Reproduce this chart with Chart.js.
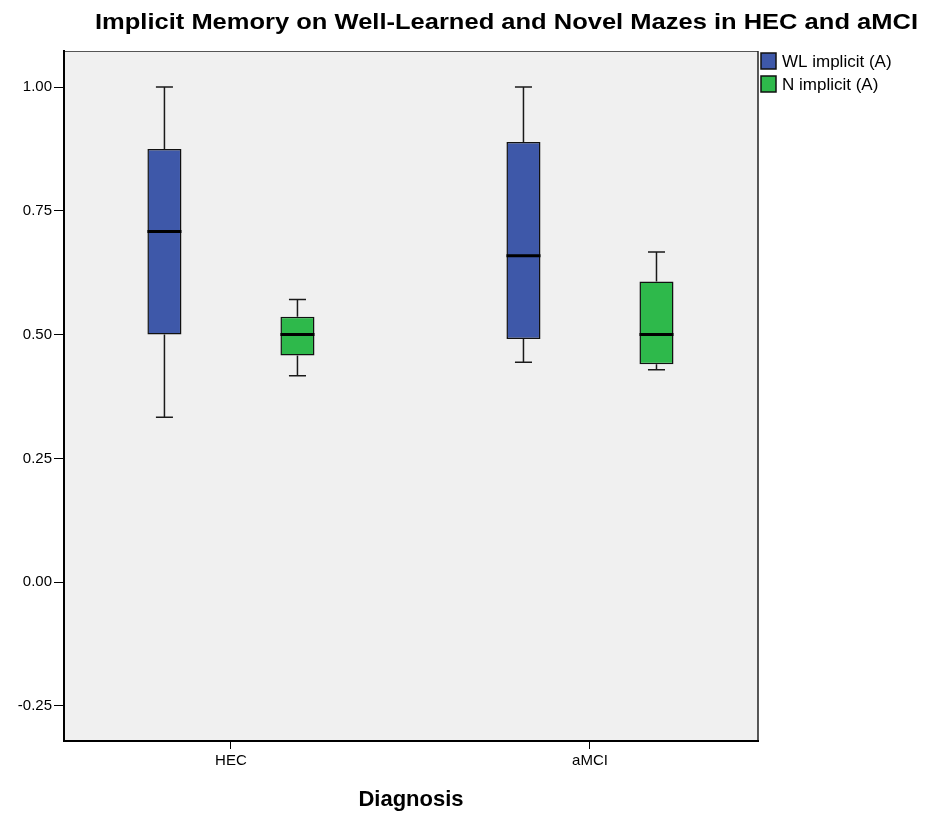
<!DOCTYPE html>
<html>
<head>
<meta charset="utf-8">
<script src="https://cdn.jsdelivr.net/npm/chart.js@4.4.0/dist/chart.umd.min.js"></script>
<style>
html, body { margin: 0; padding: 0; background: #fff; }
#wrap { width: 925px; height: 817px; }
</style>
</head>
<body>
<div id="wrap"><canvas id="graph"></canvas></div>
<script>
const chartTitle = 'Implicit Memory on Well-Learned and Novel Mazes in HEC and aMCI';
const categories = ['HEC', 'aMCI'];
const seriesNames = ['WL implicit (A)', 'N implicit (A)'];
const seriesColors = ['#3e58a9', '#2eb94b'];
const yTicks = [-0.25, 0, 0.25, 0.5, 0.75, 1.0];

// five-number summaries per group
const wlMin = [0.333, 0.444];
const wlQ1 = [0.500, 0.491];
const wlMedian = [0.708, 0.659];
const wlQ3 = [0.875, 0.889];
const wlMax = [1.000, 1.000];

const nMin = [0.417, 0.429];
const nQ1 = [0.458, 0.440];
const nMedian = [0.500, 0.500];
const nQ3 = [0.536, 0.607];
const nMax = [0.571, 0.667];

const FONT = '"Liberation Sans", Arial, sans-serif';
Chart.defaults.font.family = FONT;
Chart.defaults.color = '#000';

function makeSet(i, mins, q1s, meds, q3s, maxs) {
    return {
        label: seriesNames[i],
        data: categories.map((c, j) => ({x: j, y: [q1s[j], q3s[j]]})),
        stats: {min: mins, median: meds, max: maxs, q1: q1s, q3: q3s},
        backgroundColor: seriesColors[i],
        borderColor: '#111',
        borderWidth: 1.5,
        borderSkipped: false,
        categoryPercentage: 0.741,
        barPercentage: 0.256
    };
}

const plotBackground = {
    id: 'plotBackground',
    beforeDraw(chart) {
        const {ctx, chartArea: a} = chart;
        ctx.save();
        ctx.fillStyle = '#f0f0f0';
        ctx.fillRect(a.left, a.top, a.right - a.left, a.bottom - a.top);
        ctx.strokeStyle = '#555';
        ctx.lineWidth = 1;
        ctx.beginPath();
        ctx.moveTo(a.left, a.top + 0.5);
        ctx.lineTo(a.right, a.top + 0.5);
        ctx.stroke();
        ctx.strokeStyle = '#222';
        ctx.lineWidth = 1.5;
        ctx.beginPath();
        ctx.moveTo(a.right, a.top);
        ctx.lineTo(a.right, a.bottom);
        ctx.stroke();
        ctx.restore();
    }
};

const whiskers = {
    id: 'whiskers',
    afterDatasetsDraw(chart) {
        const {ctx} = chart;
        const y = chart.scales.y;
        ctx.save();
        chart.data.datasets.forEach((ds, i) => {
            const meta = chart.getDatasetMeta(i);
            meta.data.forEach((bar, j) => {
                const s = ds.stats;
                const x = bar.x, w = bar.width;
                ctx.strokeStyle = '#1a1a1a';
                ctx.lineWidth = 1.5;
                ctx.beginPath();
                ctx.moveTo(x, y.getPixelForValue(s.q3[j]));
                ctx.lineTo(x, y.getPixelForValue(s.max[j]));
                ctx.moveTo(x, y.getPixelForValue(s.q1[j]));
                ctx.lineTo(x, y.getPixelForValue(s.min[j]));
                ctx.moveTo(x - w / 4, y.getPixelForValue(s.max[j]));
                ctx.lineTo(x + w / 4, y.getPixelForValue(s.max[j]));
                ctx.moveTo(x - w / 4, y.getPixelForValue(s.min[j]));
                ctx.lineTo(x + w / 4, y.getPixelForValue(s.min[j]));
                ctx.stroke();
                ctx.strokeStyle = '#000';
                ctx.lineWidth = 3;
                ctx.beginPath();
                ctx.moveTo(x - w / 2, y.getPixelForValue(s.median[j]));
                ctx.lineTo(x + w / 2, y.getPixelForValue(s.median[j]));
                ctx.stroke();
            });
        });
        ctx.restore();
    }
};

const titleAndLegend = {
    id: 'titleAndLegend',
    afterDraw(chart) {
        const {ctx} = chart;
        ctx.save();
        ctx.fillStyle = '#000';
        ctx.font = 'bold 22px ' + FONT;
        ctx.textAlign = 'left';
        ctx.textBaseline = 'alphabetic';
        // the reference title is drawn wide: stretch it to span x 95..918
        const tw = ctx.measureText(chartTitle).width;
        ctx.save();
        ctx.translate(95, 29);
        ctx.scale(823 / tw, 1);
        ctx.fillText(chartTitle, 0, 0);
        ctx.restore();

        ctx.font = '17px ' + FONT;
        ctx.textBaseline = 'middle';
        seriesNames.forEach((name, i) => {
            const top = 53 + i * 23;
            ctx.fillStyle = seriesColors[i];
            ctx.fillRect(761, top, 15, 16);
            ctx.strokeStyle = '#111';
            ctx.lineWidth = 1.5;
            ctx.strokeRect(761, top, 15, 16);
            ctx.fillStyle = '#000';
            ctx.fillText(name, 782, top + 9);
        });
        ctx.restore();
    }
};

const chart = new Chart(document.getElementById('graph'), {
    type: 'bar',
    data: {
        datasets: [
            makeSet(0, wlMin, wlQ1, wlMedian, wlQ3, wlMax),
            makeSet(1, nMin, nQ1, nMedian, nQ3, nMax)
        ]
    },
    options: {
        responsive: true,
        maintainAspectRatio: false,
        animation: false,
        layout: {padding: {top: 51, right: 167, left: 0, bottom: 0}},
        plugins: {
            legend: {display: false},
            title: {display: false},
            tooltip: {enabled: false}
        },
        scales: {
            x: {
                type: 'linear',
                offset: false,
                min: -0.465,
                max: 1.468,
                afterBuildTicks: (s) => { s.ticks = categories.map((c, i) => ({value: i})); },
                afterFit: (s) => { s.height = 76; },
                ticks: {
                    callback: (v) => categories[Math.round(v)],
                    font: {size: 15},
                    color: '#000',
                    padding: 3,
                    maxRotation: 0,
                    autoSkip: false
                },
                grid: {offset: false, drawOnChartArea: false, drawTicks: true, tickLength: 8, color: '#000'},
                border: {color: '#000', width: 2},
                title: {
                    display: true,
                    text: 'Diagnosis',
                    font: {size: 22, weight: 'bold'},
                    color: '#000',
                    padding: {top: 11}
                }
            },
            y: {
                type: 'linear',
                min: -0.3207,
                max: 1.0727,
                afterBuildTicks: (s) => { s.ticks = yTicks.map((v) => ({value: v})); },
                afterFit: (s) => { s.width = 64; },
                ticks: {
                    callback: (v) => v.toFixed(2),
                    font: {size: 15},
                    color: '#000',
                    padding: 2
                },
                grid: {drawOnChartArea: false, drawTicks: true, tickLength: 10, color: '#000'},
                border: {color: '#000', width: 2}
            }
        }
    },
    plugins: [plotBackground, whiskers, titleAndLegend]
});
</script>
</body>
</html>
